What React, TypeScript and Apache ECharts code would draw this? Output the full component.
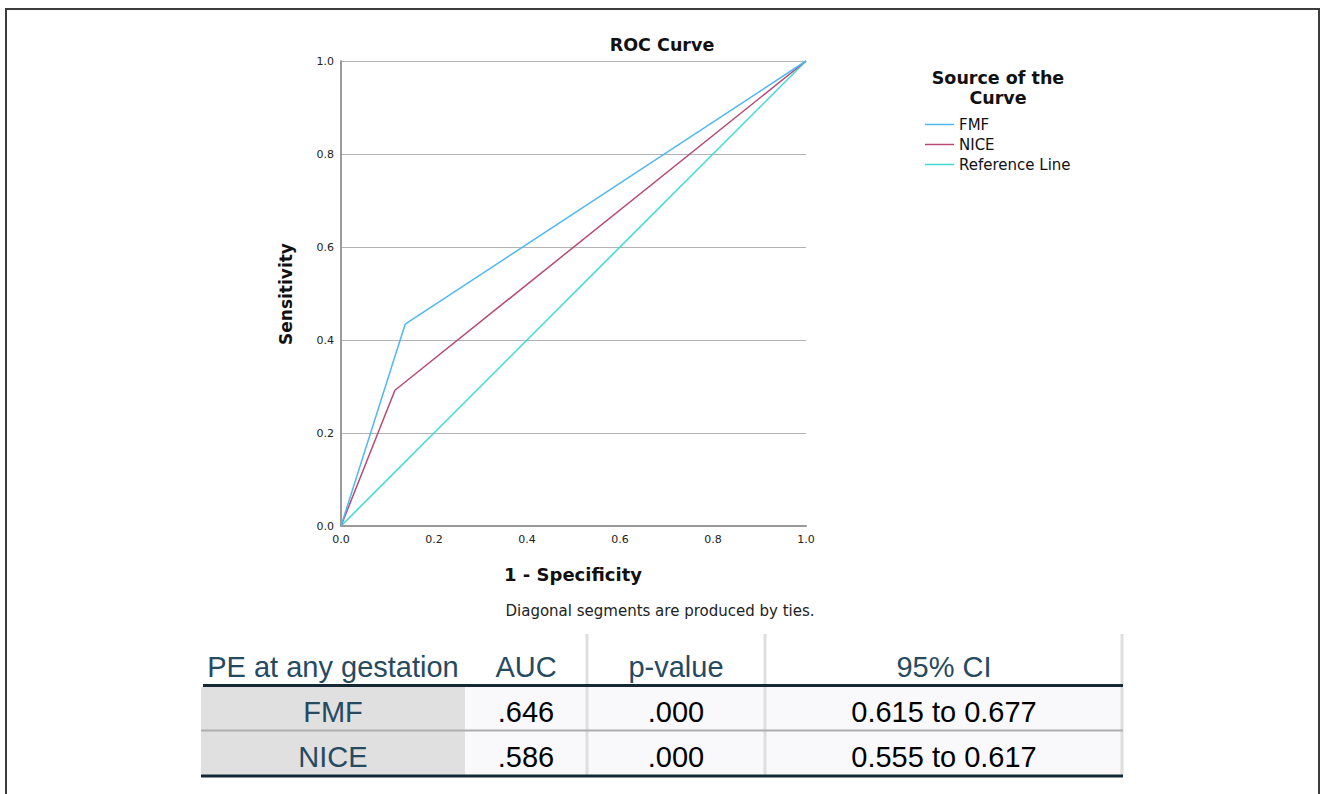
import React, { useEffect, useRef } from "react";
import * as echarts from "echarts";

const seriesNames = ["FMF", "NICE", "Reference Line"];
const seriesColors = ["#4fb8f2", "#b84a74", "#3ed9d6"];
const fmfPoints: [number, number][] = [[0, 0], [0.138, 0.434], [1, 1]];
const nicePoints: [number, number][] = [[0, 0], [0.116, 0.292], [1, 1]];
const refPoints: [number, number][] = [[0, 0], [1, 1]];

const tableHeader = ["PE at any gestation", "AUC", "p-value", "95% CI"];
const tableRowLabels = ["FMF", "NICE"];
const aucValues = [".646", ".586"];
const pValues = [".000", ".000"];
const ciValues = ["0.615 to 0.677", "0.555 to 0.617"];

const colEdges = [201, 465, 587, 765, 1123];
const headerColor = "#264a60";
const chartFont = "DejaVu Sans";
const tableFont = "Liberation Sans";

export default function App() {
  const ref = useRef<HTMLDivElement>(null);
  useEffect(() => {
    if (!ref.current) return;
    const chart = echarts.init(ref.current, undefined, { renderer: "svg" });

    const graphics: any[] = [];
    graphics.push({
      type: "polyline",
      shape: { points: [[6, 794], [6, 9], [1319, 9], [1319, 794]] },
      style: { stroke: "#3c3c3c", lineWidth: 2, fill: null },
      silent: true,
    });
    graphics.push({
      type: "text", x: 662, y: 45,
      style: { text: "ROC Curve", font: `bold 17.5px "${chartFont}"`, fill: "#111", align: "center", verticalAlign: "middle" },
    });
    graphics.push({
      type: "text", x: 998, y: 88,
      style: { text: "Source of the\nCurve", font: `bold 17.5px "${chartFont}"`, lineHeight: 20, fill: "#111", align: "center", verticalAlign: "middle" },
    });
    graphics.push({
      type: "text", x: 573, y: 574,
      style: { text: "1 - Specificity", font: `bold 18px "${chartFont}"`, fill: "#111", align: "center", verticalAlign: "middle" },
    });
    graphics.push({
      type: "text", x: 286, y: 294, rotation: Math.PI / 2,
      style: { text: "Sensitivity", font: `bold 17px "${chartFont}"`, fill: "#111", align: "center", verticalAlign: "middle" },
    });
    graphics.push({
      type: "text", x: 660, y: 611,
      style: { text: "Diagonal segments are produced by ties.", font: `15px "${chartFont}"`, fill: "#222", align: "center", verticalAlign: "middle" },
    });

    const rowTops = [687, 731];
    const rowBottoms = [730, 775];
    for (let r = 0; r < 2; r++) {
      graphics.push({
        type: "rect", shape: { x: colEdges[0], y: rowTops[r], width: colEdges[1] - colEdges[0], height: rowBottoms[r] - rowTops[r] },
        style: { fill: "#e0e0e0" }, silent: true,
      });
      graphics.push({
        type: "rect", shape: { x: colEdges[1], y: rowTops[r], width: colEdges[4] - colEdges[1], height: rowBottoms[r] - rowTops[r] },
        style: { fill: "#f9f9fb" }, silent: true,
      });
    }
    [587, 765, 1122].forEach((x) => {
      graphics.push({
        type: "line", shape: { x1: x, y1: 634, x2: x, y2: 775 },
        style: { stroke: "#dedede", lineWidth: 3 }, silent: true,
      });
    });
    graphics.push({ type: "line", shape: { x1: 203, y1: 685.5, x2: 1123, y2: 685.5 }, style: { stroke: "#152935", lineWidth: 3 }, silent: true });
    graphics.push({ type: "line", shape: { x1: 201, y1: 730.5, x2: 1123, y2: 730.5 }, style: { stroke: "#aeaeae", lineWidth: 2 }, silent: true });
    graphics.push({ type: "line", shape: { x1: 201, y1: 776, x2: 1123, y2: 776 }, style: { stroke: "#152935", lineWidth: 3 }, silent: true });

    const centers = colEdges.slice(0, 4).map((e, i) => (e + colEdges[i + 1]) / 2);
    tableHeader.forEach((h, i) => {
      graphics.push({
        type: "text", x: centers[i], y: 667,
        style: { text: h, font: `29px "${tableFont}"`, fill: headerColor, align: "center", verticalAlign: "middle" },
      });
    });
    const rowCenters = [712, 757];
    for (let r = 0; r < 2; r++) {
      const cells = [tableRowLabels[r], aucValues[r], pValues[r], ciValues[r]];
      cells.forEach((c, i) => {
        graphics.push({
          type: "text", x: centers[i], y: rowCenters[r],
          style: { text: c, font: `29px "${tableFont}"`, fill: i === 0 ? headerColor : "#000", align: "center", verticalAlign: "middle" },
        });
      });
    }

    const dataSets = [fmfPoints, nicePoints, refPoints];
    chart.setOption({
      animation: false,
      backgroundColor: "#fff",
      grid: { left: 341, top: 61, width: 465, height: 465, containLabel: false },
      legend: {
        orient: "vertical",
        left: 925,
        top: 116,
        padding: 0,
        itemWidth: 29,
        itemHeight: 1.5,
        itemGap: 3,
        data: seriesNames.map((n) => ({ name: n, icon: "rect" })),
        textStyle: { fontFamily: chartFont, fontSize: 15, color: "#111", lineHeight: 17 },
        selectedMode: false,
      },
      xAxis: {
        type: "value", min: 0, max: 1, interval: 0.2,
        axisLine: { show: true, lineStyle: { color: "#9a9a9a", width: 2 } },
        axisTick: { show: false },
        splitLine: { show: false },
        axisLabel: { formatter: (v: number) => v.toFixed(1), fontFamily: chartFont, fontSize: 11, color: "#222", margin: 8 },
      },
      yAxis: {
        type: "value", min: 0, max: 1, interval: 0.2,
        axisLine: { show: true, lineStyle: { color: "#9a9a9a", width: 2 } },
        axisTick: { show: false },
        splitLine: { show: true, lineStyle: { color: "#b3b3b3", width: 1 } },
        axisLabel: { formatter: (v: number) => v.toFixed(1), fontFamily: chartFont, fontSize: 11, color: "#222", margin: 7 },
      },
      series: seriesNames.map((n, i) => ({
        name: n,
        type: "line",
        data: dataSets[i],
        showSymbol: false,
        symbol: "none",
        color: seriesColors[i],
        lineStyle: { color: seriesColors[i], width: 1.5 },
        z: 3 - i,
      })),
      graphic: graphics,
    });
    return () => chart.dispose();
  }, []);
  return <div ref={ref} style={{ position: "fixed", left: 0, top: 0, width: 1324, height: 794 }} />;
}
